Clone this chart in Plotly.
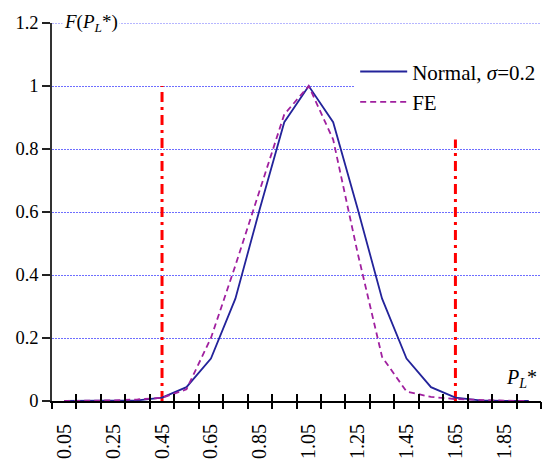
import plotly.graph_objects as go

# categories (bin centres)
x_vals = [0.05, 0.15, 0.25, 0.35, 0.45, 0.55, 0.65, 0.75, 0.85, 0.95,
          1.05, 1.15, 1.25, 1.35, 1.45, 1.55, 1.65, 1.75, 1.85, 1.95]
normal_vals = [0.0, 0.0, 0.0, 0.002, 0.011, 0.044, 0.135, 0.325, 0.61, 0.885,
               1.0, 0.885, 0.61, 0.325, 0.135, 0.044, 0.011, 0.002, 0.0, 0.0]
fe_vals = [0.0, 0.0, 0.002, 0.005, 0.01, 0.037, 0.2, 0.43, 0.67, 0.91,
           1.0, 0.83, 0.47, 0.14, 0.03, 0.013, 0.006, 0.003, 0.001, 0.0]

# vertical limit lines
limit_left_x = [0.45, 0.45]
limit_left_y = [0.0, 1.0]
limit_right_x = [1.65, 1.65]
limit_right_y = [0.0, 0.83]

x_tick_vals = [0.05, 0.25, 0.45, 0.65, 0.85, 1.05, 1.25, 1.45, 1.65, 1.85]
x_tick_text = ["0.05", "0.25", "0.45", "0.65", "0.85", "1.05", "1.25", "1.45", "1.65", "1.85"]
y_tick_vals = [0, 0.2, 0.4, 0.6, 0.8, 1.0, 1.2]
y_tick_text = ["0", "0.2", "0.4", "0.6", "0.8", "1", "1.2"]
y_max = 1.2

FONT = "Liberation Serif"
RED = "#ff0000"
GRID = "rgb(110,110,255)"

fig = go.Figure()

fig.add_trace(go.Scatter(x=limit_left_x, y=limit_left_y, mode="lines",
                         line=dict(color=RED, width=3, dash="10px,5px,3px,5px"),
                         showlegend=False, hoverinfo="skip"))
fig.add_trace(go.Scatter(x=limit_right_x, y=limit_right_y, mode="lines",
                         line=dict(color=RED, width=3, dash="10px,5px,3px,5px"),
                         showlegend=False, hoverinfo="skip"))

fig.add_trace(go.Scatter(x=x_vals, y=normal_vals, mode="lines",
                         name="Normal, <i>σ</i>=0.2", legendgroup="a",
                         line=dict(color="#23239a", width=1.8)))
fig.add_trace(go.Scatter(x=x_vals, y=fe_vals, mode="lines",
                         name="FE", legendgroup="b",
                         line=dict(color="#a0209f", width=1.8, dash="6px,4px")))

# invisible traces to host the overlay tick axes
fig.add_trace(go.Scatter(x=[None], y=[None], xaxis="x2", yaxis="y", showlegend=False, hoverinfo="skip"))
fig.add_trace(go.Scatter(x=[None], y=[None], xaxis="x3", yaxis="y", showlegend=False, hoverinfo="skip"))

fig.update_layout(
    width=542, height=460,
    margin=dict(l=52, r=1, t=23, b=59, autoexpand=False),
    paper_bgcolor="white", plot_bgcolor="white",
    font=dict(family=FONT, size=18, color="black"),
    xaxis=dict(range=[0, 2.0], tickvals=x_tick_vals, ticktext=x_tick_text,
               tickangle=-90, ticks="", showgrid=False, zeroline=False,
               showline=True, linecolor="black", linewidth=2,
               ticklabelstandoff=13,
               tickfont=dict(family=FONT, size=20)),
    xaxis2=dict(range=[0, 2.0], overlaying="x", anchor="y", side="bottom",
                tick0=0, dtick=0.1, ticks="outside", ticklen=7, tickwidth=1.5,
                tickcolor="black", showticklabels=False, showgrid=False,
                zeroline=False, showline=False),
    xaxis3=dict(range=[0, 2.0], overlaying="x", anchor="y", side="bottom",
                tick0=0, dtick=0.1, ticks="inside", ticklen=7, tickwidth=1.5,
                tickcolor="black", showticklabels=False, showgrid=False,
                zeroline=False, showline=False),
    yaxis=dict(range=[0, y_max], tickvals=y_tick_vals, ticktext=y_tick_text,
               ticks="outside", ticklen=8, tickwidth=1.5, tickcolor="#222",
               showline=True, linecolor="#333", linewidth=1.5,
               showgrid=True, gridcolor=GRID, gridwidth=1,
               griddash="2px,1px", zeroline=False,
               tickfont=dict(family=FONT, size=18.5)),
    legend=dict(x=0.62, y=0.925, xanchor="left", yanchor="top",
                bgcolor="white", borderwidth=0,
                font=dict(family=FONT, size=21),
                itemwidth=47,
                traceorder="grouped", tracegroupgap=0),
    showlegend=True,
)

# top gridline (at the range edge)
fig.add_shape(type="line", xref="paper", yref="y", x0=0, x1=1, y0=y_max, y1=y_max,
              line=dict(color=GRID, width=1, dash="2px,1px"), layer="below")

fig.add_annotation(x=0.16, y=1.2, xref="x", yref="y",
                   text="<i>F</i>(<i>P<sub>L</sub></i>*)", showarrow=False,
                   bgcolor="white", font=dict(family=FONT, size=19),
                   xanchor="center", yanchor="middle")
fig.add_annotation(x=1.92, y=0.07, xref="x", yref="y",
                   text="<i>P<sub>L</sub></i>*", showarrow=False,
                   font=dict(family=FONT, size=20),
                   xanchor="center", yanchor="middle")

fig.write_html("out.html", config={"displayModeBar": False},
               post_script="document.body.style.margin='0';")
